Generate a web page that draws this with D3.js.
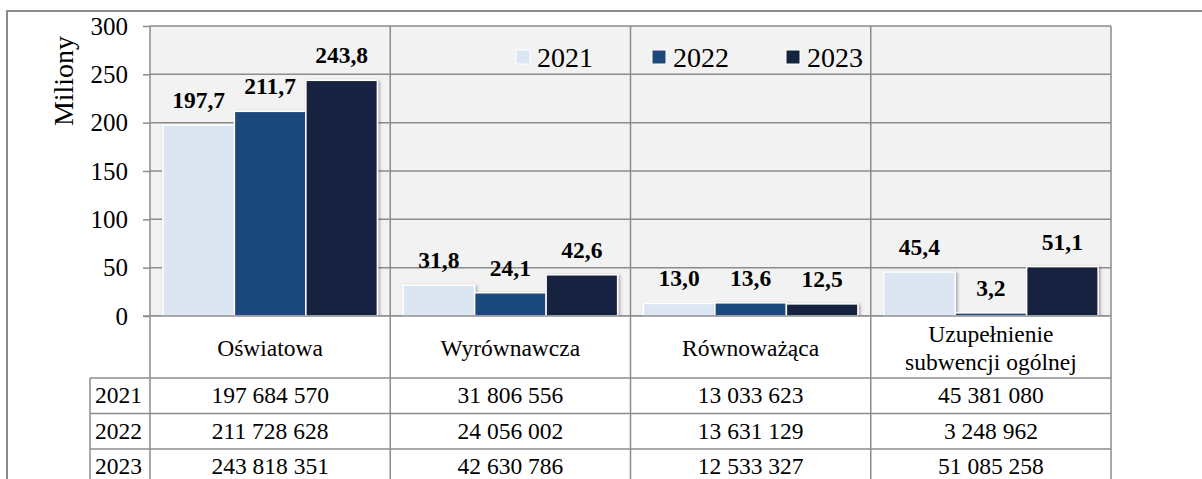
<!DOCTYPE html>
<html>
<head>
<meta charset="utf-8">
<script src="https://cdn.jsdelivr.net/npm/d3@7"></script>
<style>
  html, body { margin: 0; padding: 0; background: #ffffff; }
  svg text { font-family: "Liberation Serif", "Times New Roman", Times, "DejaVu Serif", serif; }
</style>
</head>
<body>
<svg id="chart" width="1202" height="479"></svg>
<script>
// Subwencje – kwoty w złotych wg rodzaju i roku
const categories = ["Oświatowa", "Wyrównawcza", "Równoważąca", "Uzupełnienie subwencji ogólnej"];
const years = ["2021", "2022", "2023"];
const values2021 = [197684570, 31806556, 13033623, 45381080];
const values2022 = [211728628, 24056002, 13631129, 3248962];
const values2023 = [243818351, 42630786, 12533327, 51085258];
const yTicks = [0, 50, 100, 150, 200, 250, 300];
const yTitle = "Miliony";
const colors = ["#dce6f2", "#1f497d", "#14243f"];

const seriesValues = [values2021, values2022, values2023];

const W = 1202, H = 479;
const plotLeft = 150, plotRight = 1111, plotTop = 26, plotBottom = 316;
const labelRowBottom = 378;
const rowH = 35.5;
const yearColLeft = 90;
const gridColor = "#8c8c8c";
const serif = "'Liberation Serif', 'Times New Roman', Times, serif";

const svg = d3.select("#chart");

const defs = svg.append("defs");
const shadow = defs.append("filter").attr("id", "barShadow")
  .attr("x", "-10%").attr("y", "-10%").attr("width", "130%").attr("height", "130%");
shadow.append("feDropShadow").attr("dx", 1.5).attr("dy", 1).attr("stdDeviation", 1.5)
  .attr("flood-color", "#000").attr("flood-opacity", 0.35);

const x = d3.scaleBand().domain(categories).range([plotLeft, plotRight]).padding(0);
const xs = d3.scaleBand().domain(years).range([0, x.bandwidth()]).paddingInner(0).paddingOuter(0.18);
const y = d3.scaleLinear().domain([0, 300]).range([plotBottom, plotTop]);

const plLocale = d3.formatLocale({ decimal: ",", thousands: "\u00a0", grouping: [3], currency: ["", " zł"] });
const fmtTable = plLocale.format(",d");
const fmtLabel = plLocale.format(".1f");

// outer frame (top and left edges)
svg.append("line").attr("x1", 7).attr("x2", W).attr("y1", 11).attr("y2", 11)
  .attr("stroke", gridColor).attr("stroke-width", 2);
svg.append("line").attr("x1", 7).attr("x2", 7).attr("y1", 10).attr("y2", H)
  .attr("stroke", gridColor).attr("stroke-width", 2);

// plot background
svg.append("rect").attr("x", plotLeft).attr("y", plotTop)
  .attr("width", plotRight - plotLeft).attr("height", plotBottom - plotTop)
  .attr("fill", "#f2f2f2");

// y axis with ticks
const yAxis = d3.axisLeft(y).tickValues(yTicks).tickSize(7).tickPadding(15).tickFormat(d3.format("d"));
const gy = svg.append("g").attr("transform", `translate(${plotLeft},0)`).call(yAxis)
  .attr("font-family", serif).attr("font-size", 25);
gy.select(".domain").remove();
gy.selectAll(".tick line").attr("stroke", gridColor).attr("stroke-width", 1.5);
gy.selectAll(".tick text").attr("fill", "#000").attr("font-family", serif).attr("font-size", 25);

// horizontal gridlines
svg.append("g").selectAll("line").data(yTicks).join("line")
  .attr("x1", plotLeft).attr("x2", plotRight)
  .attr("y1", d => y(d)).attr("y2", d => y(d))
  .attr("stroke", gridColor).attr("stroke-width", 1.5);

// y title
svg.append("text").attr("transform", "translate(73,81) rotate(-90)")
  .attr("text-anchor", "middle").attr("font-family", serif).attr("font-size", 28)
  .attr("fill", "#000").text(yTitle);

// legend
const legendX = [516, 652, 786];
const legend = svg.append("g").selectAll("g").data(years).join("g")
  .attr("transform", (d, i) => `translate(${legendX[i]},50)`);
legend.append("rect").attr("width", 14).attr("height", 14)
  .attr("fill", (d, i) => colors[i]).attr("stroke", "#ffffff").attr("stroke-width", 1);
legend.append("text").attr("x", 21).attr("y", 17).attr("font-family", serif)
  .attr("font-size", 28).attr("fill", "#000").text(d => d);

// bars
const groups = svg.append("g").selectAll("g").data(categories).join("g")
  .attr("transform", d => `translate(${x(d)},0)`);
const barData = (c, ci) => years.map((yr, si) => ({ year: yr, si, v: seriesValues[si][ci] / 1e6 }));
groups.selectAll("rect").data((c, ci) => barData(c, ci)).join("rect")
  .attr("x", d => xs(d.year)).attr("width", xs.bandwidth())
  .attr("y", d => y(d.v)).attr("height", d => y(0) - y(d.v))
  .attr("fill", d => colors[d.si]).attr("stroke", "#ffffff").attr("stroke-width", 1.5)
  .attr("filter", "url(#barShadow)");
groups.selectAll("text.val").data((c, ci) => barData(c, ci)).join("text")
  .attr("class", "val")
  .attr("x", d => xs(d.year) + xs.bandwidth() / 2).attr("y", d => y(d.v) - 17)
  .attr("text-anchor", "middle").attr("font-family", serif).attr("font-size", 23.5)
  .attr("font-weight", "bold").attr("fill", "#000")
  .text(d => fmtLabel(d.v));

// category label row
svg.append("rect").attr("x", plotLeft).attr("y", plotBottom).attr("width", plotRight - plotLeft)
  .attr("height", labelRowBottom - plotBottom).attr("fill", "#fff");
const catText = svg.append("g").selectAll("text").data(categories).join("text")
  .attr("x", d => x(d) + x.bandwidth() / 2)
  .attr("text-anchor", "middle").attr("font-family", serif).attr("font-size", 23.5).attr("fill", "#000");
catText.each(function (d) {
  const t = d3.select(this);
  const words = d.split(" ");
  const lines = [];
  let cur = "";
  t.text("");
  const probe = t.append("tspan");
  words.forEach(w => {
    const test = cur ? cur + " " + w : w;
    probe.text(test);
    if (probe.node().getComputedTextLength() > 200 && cur) { lines.push(cur); cur = w; }
    else cur = test;
  });
  lines.push(cur);
  probe.remove();
  const lh = 28;
  const first = (plotBottom + labelRowBottom) / 2 + 9 - (lines.length - 1) * lh / 2;
  lines.forEach((ln, i) => {
    t.append("tspan").attr("x", x(d) + x.bandwidth() / 2).attr("y", first + i * lh).text(ln);
  });
});

// data table
const rowTop = i => labelRowBottom + i * rowH;
const tbl = svg.append("g");
years.forEach((yr, si) => {
  tbl.append("text").attr("x", yearColLeft + 5).attr("y", rowTop(si) + 25)
    .attr("font-family", serif).attr("font-size", 23.5).attr("fill", "#000").text(yr);
  tbl.selectAll(null).data(categories).join("text")
    .attr("x", d => x(d) + x.bandwidth() / 2).attr("y", rowTop(si) + 25)
    .attr("text-anchor", "middle").attr("font-family", serif).attr("font-size", 23.5).attr("fill", "#000")
    .text((d, ci) => fmtTable(seriesValues[si][ci]));
});
years.forEach((yr, si) => {
  tbl.append("line").attr("x1", yearColLeft).attr("x2", plotRight)
    .attr("y1", rowTop(si)).attr("y2", rowTop(si))
    .attr("stroke", gridColor).attr("stroke-width", 1.5);
});
tbl.append("line").attr("x1", yearColLeft).attr("x2", yearColLeft)
  .attr("y1", labelRowBottom).attr("y2", H).attr("stroke", gridColor).attr("stroke-width", 1.5);

// vertical category dividers running through plot and table
const dividers = categories.map(c => x(c)).concat([plotRight]);
svg.append("g").selectAll("line").data(dividers).join("line")
  .attr("x1", d => d).attr("x2", d => d).attr("y1", plotTop).attr("y2", H)
  .attr("stroke", gridColor).attr("stroke-width", 1.5);
// zero line drawn over the bar bases
svg.append("line").attr("x1", plotLeft - 7).attr("x2", plotRight).attr("y1", y(0)).attr("y2", y(0))
  .attr("stroke", gridColor).attr("stroke-width", 1.5);
</script>
</body>
</html>
